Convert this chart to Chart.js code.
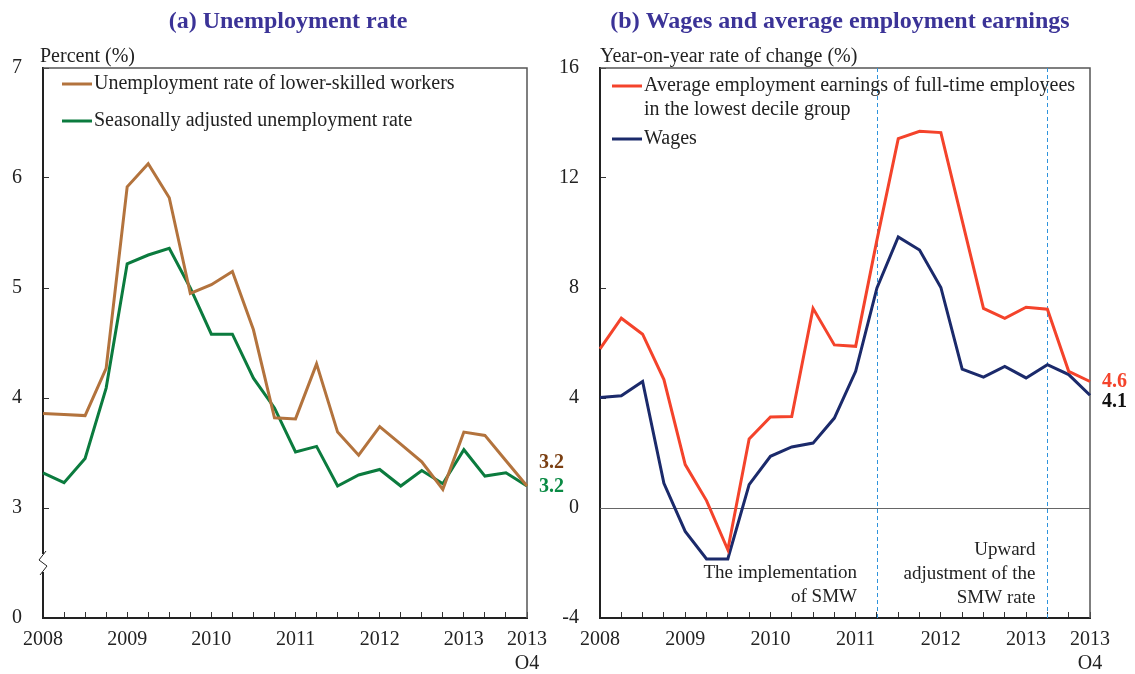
<!DOCTYPE html>
<html>
<head>
<meta charset="utf-8">
<script src="https://cdn.jsdelivr.net/npm/chart.js@4.4.1/dist/chart.umd.min.js"></script>
<style>
  body { margin: 0; background: #fff; }
  #wrap { position: relative; width: 1135px; height: 674px; }
  canvas { position: absolute; top: 0; }
</style>
</head>
<body>
<div id="wrap">
  <canvas id="unempChart" width="567" height="674" style="left:0"></canvas>
  <canvas id="wageChart" width="590" height="674" style="left:545px"></canvas>
</div>
<script>
// Quarterly data, 2008 Q1 - 2013 Q4
const quarters = [
  "2008Q1", "2008Q2", "2008Q3", "2008Q4", "2009Q1", "2009Q2", "2009Q3", "2009Q4",
  "2010Q1", "2010Q2", "2010Q3", "2010Q4", "2011Q1", "2011Q2", "2011Q3", "2011Q4",
  "2012Q1", "2012Q2", "2012Q3", "2012Q4", "2013Q1", "2013Q2", "2013Q3", "2013Q4"
];
const xTickText = [
  "2008", "", "", "", "2009", "", "", "", "2010", "", "", "", "2011", "", "", "",
  "2012", "", "", "", "2013", "", "", ["2013", "O4"]
];

// (a) unemployment rate, %
const lowerSkilled = [3.86, 3.85, 3.84, 4.27, 5.92, 6.13, 5.82, 4.95, 5.03, 5.15, 4.62, 3.82,
  3.81, 4.31, 3.69, 3.48, 3.74, 3.58, 3.42, 3.17, 3.69, 3.66, 3.43, 3.2];
const seasonallyAdjusted = [3.32, 3.23, 3.45, 4.09, 5.22, 5.30, 5.36, 5.0, 4.58, 4.58, 4.18, 3.91,
  3.51, 3.56, 3.20, 3.30, 3.35, 3.20, 3.34, 3.22, 3.53, 3.29, 3.32, 3.2];
const unempTicks = [2, 3, 4, 5, 6, 7];
const unempTickText = ["0", "3", "4", "5", "6", "7"];

// (b) year-on-year rate of change, %
const lowestDecileEarnings = [5.79, 6.9, 6.32, 4.67, 1.58, 0.27, -1.52, 2.51, 3.31, 3.33, 7.26, 5.93,
  5.88, 9.75, 13.43, 13.7, 13.65, 10.45, 7.26, 6.9, 7.3, 7.23, 4.97, 4.6];
const wages = [4.02, 4.08, 4.6, 0.9, -0.85, -1.85, -1.85, 0.85, 1.88, 2.22, 2.36, 3.27,
  4.97, 8.0, 9.86, 9.38, 8.02, 5.05, 4.76, 5.15, 4.73, 5.21, 4.85, 4.1];
const wageTicks = [-4, 0, 4, 8, 12, 16];
const wageTickText = ["-4", "0", "4", "8", "12", "16"];

// SMW introduced 2011 Q2, raised 2013 Q2
const smwQuarters = [13, 21];

const SERIF = '"Liberation Serif", "Times New Roman", serif';
const BROWN = "#b3733d";
const GREEN = "#0b7b3e";
const RED = "#f4432b";
const NAVY = "#1b2a6b";

function font(size, bold) {
  return (bold ? "bold " : "") + size + "px " + SERIF;
}

// Titles, legend, end-value labels, notes and frame drawn onto the canvas
function panelPlugin(cfg) {
  return {
    id: "panel",
    beforeDatasetsDraw(chart) {
      const { ctx, chartArea: a, scales } = chart;
      ctx.save();
      ctx.strokeStyle = "#555";
      ctx.lineWidth = 1.5;
      ctx.beginPath();
      ctx.moveTo(a.left, a.top);
      ctx.lineTo(a.right, a.top);
      ctx.lineTo(a.right, a.bottom);
      ctx.stroke();

      if (cfg.zeroLine) {
        const y0 = Math.round(scales.y.getPixelForValue(0)) + 0.5;
        ctx.strokeStyle = "#666";
        ctx.lineWidth = 1;
        ctx.beginPath();
        ctx.moveTo(a.left, y0);
        ctx.lineTo(a.right, y0);
        ctx.stroke();
      }

      (cfg.markers || []).forEach(i => {
        const x = Math.round(scales.x.getPixelForValue(i)) + 0.5;
        ctx.strokeStyle = "#2f93dc";
        ctx.lineWidth = 1;
        ctx.setLineDash([4, 3]);
        ctx.beginPath();
        ctx.moveTo(x, a.top);
        ctx.lineTo(x, a.bottom);
        ctx.stroke();
        ctx.setLineDash([]);
      });
      ctx.restore();
    },
    afterDraw(chart) {
      const { ctx, chartArea: a, scales } = chart;
      ctx.save();

      // panel title
      ctx.fillStyle = "#3b3397";
      ctx.font = font(24, true);
      ctx.textAlign = "center";
      ctx.textBaseline = "middle";
      ctx.fillText(cfg.title, (a.left + a.right) / 2 + cfg.titleShift, 22);

      // unit label above the axis
      ctx.fillStyle = "#222";
      ctx.font = font(20);
      ctx.textAlign = "left";
      ctx.fillText(cfg.unit, a.left + cfg.unitShift, 57);

      // legend inside the plot
      ctx.font = font(20);
      cfg.legend.forEach(item => {
        const y = a.top + item.dy;
        ctx.strokeStyle = item.color;
        ctx.lineWidth = 3;
        ctx.beginPath();
        ctx.moveTo(a.left + cfg.legendX, y);
        ctx.lineTo(a.left + cfg.legendX + 30, y);
        ctx.stroke();
        ctx.fillStyle = "#222";
        item.lines.forEach((t, k) => ctx.fillText(t, a.left + cfg.legendX + 32, y + k * 24));
      });

      // last values beside the right edge
      ctx.font = font(20, true);
      cfg.endLabels.forEach(l => {
        const y = scales.y.getPixelForValue(l.value) + l.dy;
        ctx.fillStyle = l.color;
        ctx.fillText(l.value.toFixed(1), a.right + 12, y);
      });

      // notes next to the SMW markers
      ctx.font = font(19);
      ctx.fillStyle = "#222";
      ctx.textAlign = "right";
      (cfg.notes || []).forEach(n => {
        const x = scales.x.getPixelForValue(n.at) - n.gap;
        n.lines.forEach((t, k) => ctx.fillText(t, x, n.y + k * 24));
      });

      // broken-axis mark
      if (cfg.axisBreak) {
        const y = scales.y.getPixelForValue(cfg.axisBreak);
        const x = a.left;
        ctx.fillStyle = "#fff";
        ctx.fillRect(x - 2, y - 9, 4, 18);
        ctx.strokeStyle = "#222";
        ctx.lineWidth = 1;
        ctx.beginPath();
        ctx.moveTo(x + 3, y - 12);
        ctx.lineTo(x - 4, y - 3);
        ctx.lineTo(x + 4, y + 3);
        ctx.lineTo(x - 3, y + 12);
        ctx.stroke();
      }
      ctx.restore();
    }
  };
}

function lineSet(data, color) {
  return {
    data: data,
    borderColor: color,
    borderWidth: 3,
    pointRadius: 0,
    tension: 0,
    fill: false
  };
}

function xAxis() {
  return {
    type: "category",
    offset: false,
    afterFit: s => { s.height = 56; },
    grid: { drawOnChartArea: false, offset: false, tickLength: -6, color: "#333", lineWidth: 1 },
    border: { color: "#222", width: 2 },
    ticks: {
      autoSkip: false,
      maxRotation: 0,
      padding: 16,
      color: "#222",
      font: { family: SERIF, size: 20 },
      callback: (v, i) => xTickText[i]
    }
  };
}

function yAxis(min, max, ticks, text, width) {
  return {
    min: min,
    max: max,
    afterFit: s => { s.width = width; },
    afterBuildTicks: s => { s.ticks = ticks.map(v => ({ value: v })); },
    grid: { drawOnChartArea: false, tickLength: -6, color: "#333", lineWidth: 1 },
    border: { color: "#222", width: 2 },
    ticks: {
      padding: 27,
      color: "#222",
      font: { family: SERIF, size: 20 },
      callback: v => text[ticks.indexOf(v)]
    }
  };
}

const baseOptions = {
  responsive: false,
  animation: false,
  plugins: { legend: { display: false }, tooltip: { enabled: false } }
};

new Chart(document.getElementById("unempChart"), {
  type: "line",
  data: {
    labels: quarters,
    datasets: [lineSet(lowerSkilled, BROWN), lineSet(seasonallyAdjusted, GREEN)]
  },
  options: Object.assign({}, baseOptions, {
    layout: { padding: { top: 68, right: 40, bottom: 0, left: 0 } },
    scales: {
      x: xAxis(),
      y: yAxis(2, 7, unempTicks, unempTickText, 43)
    }
  }),
  plugins: [panelPlugin({
    title: "(a) Unemployment rate",
    titleShift: 3,
    unit: "Percent (%)",
    unitShift: -3,
    legendX: 19,
    legend: [
      { color: BROWN, dy: 16, lines: ["Unemployment rate of lower-skilled workers"] },
      { color: GREEN, dy: 53, lines: ["Seasonally adjusted unemployment rate"] }
    ],
    endLabels: [
      { value: lowerSkilled[lowerSkilled.length - 1], color: "#7b3f12", dy: -23 },
      { value: seasonallyAdjusted[seasonallyAdjusted.length - 1], color: "#0a8a44", dy: 1 }
    ],
    axisBreak: 2.5
  })]
});

new Chart(document.getElementById("wageChart"), {
  type: "line",
  data: {
    labels: quarters,
    datasets: [lineSet(lowestDecileEarnings, RED), lineSet(wages, NAVY)]
  },
  options: Object.assign({}, baseOptions, {
    layout: { padding: { top: 68, right: 45, bottom: 0, left: 0 } },
    scales: {
      x: xAxis(),
      y: yAxis(-4, 16, wageTicks, wageTickText, 55)
    }
  }),
  plugins: [panelPlugin({
    title: "(b) Wages and average employment earnings",
    titleShift: -5,
    unit: "Year-on-year rate of change (%)",
    unitShift: 0,
    legendX: 12,
    legend: [
      { color: RED, dy: 18, lines: ["Average employment earnings of full-time employees", "in the lowest decile group"] },
      { color: NAVY, dy: 71, lines: ["Wages"] }
    ],
    endLabels: [
      { value: lowestDecileEarnings[lowestDecileEarnings.length - 1], color: RED, dy: 0 },
      { value: wages[wages.length - 1], color: "#111", dy: 7 }
    ],
    zeroLine: true,
    markers: smwQuarters,
    notes: [
      { at: smwQuarters[0], gap: 20, y: 573, lines: ["The implementation", "of SMW"] },
      { at: smwQuarters[1], gap: 12, y: 550, lines: ["Upward", "adjustment of the", "SMW rate"] }
    ]
  })]
});
</script>
</body>
</html>
